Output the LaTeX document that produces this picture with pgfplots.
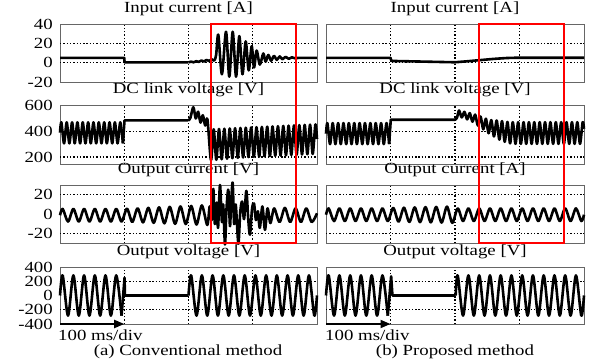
\documentclass[border=0pt]{standalone}
\usepackage{pgfplots}
\pgfplotsset{compat=1.18}
\usepackage{fontspec}
\setmainfont{Liberation Serif}[FakeStretch=1.22]
\usetikzlibrary{arrows.meta}
\newcommand{\fs}{\fontsize{15.5}{18}\selectfont}
\pgfplotsset{
  panel/.style={
    scale only axis, width=257bp, height=58bp,
    xmin=0, xmax=400,
    xtick={100,200,300}, xticklabels={}, xmajorgrids,
    major tick length=0pt,
    axis line style={draw=black!60, line width=0.9bp},
    grid style={black, line width=1.4bp, dash pattern=on 1.4bp off 1.9bp},
    yticklabel style={font=\fs, anchor=east, inner sep=0pt, xshift=-7bp},
    title style={font=\fs, at={(0.5,1)}, anchor=base, yshift=6bp, inner sep=0pt},
    extra tick style={grid=major, major tick length=0pt},
    extra y tick labels={},
    clip=false,
  },
  L/.style={panel, anchor=south west},
  R/.style={panel, anchor=south west, width=258bp},
  nolab/.style={yticklabels={}},
  tr/.style={black, line width=2.6bp, line join=round},
  r1/.style={height=58bp, ymin=-20, ymax=40, ytick={-20,0,20,40}, yticklabels={-20,0,20,40}, extra y ticks={0,20}, title={Input current [A]}},
  r2/.style={height=59bp, ymin=145, ymax=605, ytick={200,400,600}, yticklabels={200,400,600}, extra y ticks={200,400}, title={DC link voltage [V]}},
  r3/.style={height=58bp, ymin=-29.5, ymax=30, ytick={-20,0,20}, yticklabels={-20,0,20}, extra y ticks={-20,20}},
  r4/.style={height=57bp, ymin=-400, ymax=400, ytick={-400,-200,0,200,400}, yticklabels={-400,-200,0,200,400}, extra y ticks={-200,200}, title={Output voltage [V]}},
}
\begin{document}
\begin{tikzpicture}
\path[use as bounding box] (0,0) rectangle (589bp,363bp);
% ---------------- Row 1 : input current
\begin{axis}[L, r1, at={(60bp,281bp)}]
\addplot[tr] coordinates {(0,5)(100,5)(100.5,0.3)(200,0.3)};
\addplot[tr, smooth] coordinates {(200,0.3)(204,1.0)(208,0.4)(212,1.5)(216,0.8)(220,2.2)(224,1.2)(228,2.8)(232,1.8)(236,3.5)(240,2.2)(243,8)(246.4,29)(252,-12)(258.4,32)(263.5,-14.5)(268.8,32)(274,-14.5)(279.1,27.5)(284,-12)(289,22)(293.7,-8)(298.3,17)(302,-5)(306,12.5)(311,-2)(316.4,9.5)(320,1)(324.2,8)(328.5,2)(333,7)(337.5,3)(342,6.5)(346,3.5)(351,6)(356,4)(361,5.5)(366,4.5)(372,5)(380,5)(400,5)};
\coordinate (ra) at (rel axis cs:0.5875,1);
\end{axis}
\begin{axis}[R, r1, nolab, at={(326bp,281bp)}]
\addplot[tr] coordinates {(0,5)(100,5)(101.5,1.8)(150,1.1)(200,0.4)(220,1.5)(240,2.7)(260,3.9)(280,4.8)(295,5.1)(400,5.1)};
\coordinate (rc) at (rel axis cs:0.593,1);
\end{axis}
% ---------------- Row 2 : DC link voltage
\begin{axis}[L, r2, at={(60bp,199bp)}]
\addplot[tr, smooth] coordinates {(0,390)(2.1,470)(6.3,306)(10.4,470)(14.6,306)(18.8,470)(22.9,306)(27.1,470)(31.3,306)(35.4,470)(39.6,306)(43.8,470)(47.9,306)(52.1,470)(56.3,306)(60.4,470)(64.6,306)(68.8,470)(72.9,306)(77.1,470)(81.3,306)(85.4,470)(89.6,306)(93.8,470)(97.9,306)};
\addplot[tr] coordinates {(97.9,306)(100.4,485)(200,485)};
\addplot[tr, smooth] coordinates {(200,485)(203,505)(207.5,588)(211.3,500)(215,553)(218.7,468)(222.3,525)(226,445)(229.5,492)(235,175)(239.2,416)(243.3,178)(247.5,418)(251.7,182)(255.8,420)(260,186)(264.2,422)(268.3,190)(272.5,424)(276.7,193)(280.8,426)(285,196)(289.2,428)(293.3,199)(297.5,430)(301.7,201)(305.8,432)(310,203)(314.2,434)(318.3,205)(322.5,436)(326.7,207)(330.8,438)(335,209)(339.2,440)(343.3,211)(347.5,442)(351.7,213)(355.8,444)(360,215)(364.2,446)(368.3,217)(372.5,448)(376.7,219)(380.8,450)(385,221)(389.2,452)(393.3,223)(397.5,454)(400,340)};
\end{axis}
\begin{axis}[R, r2, nolab, at={(326bp,199bp)}]
\addplot[tr, smooth] coordinates {(0,382)(2.1,464)(6.3,300)(10.4,464)(14.6,300)(18.8,464)(22.9,300)(27.1,464)(31.3,300)(35.4,464)(39.6,300)(43.8,464)(47.9,300)(52.1,464)(56.3,300)(60.4,464)(64.6,300)(68.8,464)(72.9,300)(77.1,464)(81.3,300)(85.4,464)(89.6,300)(93.8,464)(97.9,300)};
\addplot[tr] coordinates {(97.9,300)(100.4,490)(200,490)};
\addplot[tr, smooth] coordinates {(200,490)(203,505)(206.3,562)(210.4,508)(214.6,552)(218.8,493)(222.9,542)(227.1,475)(231.3,530)(235.4,445)(239.6,515)(243.8,415)(247.9,498)(252.1,385)(256.3,487)(260.4,360)(264.6,484)(268.8,335)(272.9,479)(277.1,318)(281.3,473)(285.4,306)(289.6,471)(293.8,302)(297.9,471)(302.1,302)(306.3,471)(310.4,302)(314.6,471)(318.8,302)(322.9,471)(327.1,302)(331.3,471)(335.4,302)(339.6,471)(343.8,302)(347.9,471)(352.1,302)(356.3,471)(360.4,302)(364.6,471)(368.8,302)(372.9,471)(377.1,302)(381.3,471)(385.4,302)(389.6,471)(393.8,302)(397.9,471)(400,420)};
\end{axis}
% ---------------- Row 3 : output current
\begin{axis}[L, r3, at={(60bp,120bp)}, title={Output current [V]}]
\addplot[tr, smooth] coordinates {(0,-1)(4.2,5.5)(12.5,-7.5)(20.8,5.5)(29.2,-7.5)(37.5,5.5)(45.8,-7.5)(54.2,5.5)(62.5,-7.5)(70.8,5.5)(79.2,-7.5)(87.5,5.5)(95.8,-7.5)(104.2,5.7)(112.5,-7.9)(120.8,6.1)(129.2,-8.3)(137.5,6.6)(145.8,-8.8)(154.2,7.1)(162.5,-9.3)(170.8,7.6)(179.2,-9.8)(187.5,8)(195.8,-10)(204.2,8.5)(212.5,-10.5)(220.8,9)(229.2,-11)(233,8)(236,-6)(238.6,26)(241,-10)(244,12)(246,-14)(249,30)(252,-8)(254,10)(256.8,-31)(259,4)(262,25)(264.5,-12)(266,6)(268.7,32.5)(271,-10)(273.5,10)(277.6,-30)(280.5,2)(283.5,13)(286.5,-5)(290,24)(293,-5)(295.7,-21)(299,6)(302,11)(305,-6)(308,3)(311,-14)(315,8)(319,-16)(323,6)(327.5,-9)(333.3,6)(341.7,-8)(350,6.5)(358.3,-8)(366.7,6)(375,-8)(383.3,6)(391.7,-8)(400,1)};
\coordinate (rb) at (rel axis cs:0.918,0);
\end{axis}
\begin{axis}[R, r3, nolab, at={(326bp,120bp)}, title={Output current [A]}]
\addplot[tr, smooth] coordinates {(0,-0.5)(4.2,6)(12.5,-7)(20.8,6)(29.2,-7)(37.5,6)(45.8,-7)(54.2,6)(62.5,-7)(70.8,6)(79.2,-7)(87.5,6)(95.8,-7)(104.2,6.5)(112.5,-7.6)(120.8,6.7)(129.2,-7.9)(137.5,7)(145.8,-8.1)(154.2,7.3)(162.5,-8.3)(170.8,7.5)(179.2,-8.5)(187.5,7.8)(195.8,-8.8)(204.2,6)(212.5,-7)(220.8,6)(229.2,-7)(237.5,6)(245.8,-7)(254.2,6)(262.5,-7)(270.8,6)(279.2,-7)(287.5,6)(295.8,-7)(304.2,6)(312.5,-7)(320.8,6)(329.2,-7)(337.5,6)(345.8,-7)(354.2,6)(362.5,-7)(370.8,6)(379.2,-7)(387.5,6)(395.8,-7)(400,-0.5)};
\coordinate (rd) at (rel axis cs:0.922,0);
\end{axis}
% ---------------- Row 4 : output voltage
\begin{axis}[L, r4, at={(60bp,39bp)}]
\addplot[tr, smooth] coordinates {(0,0)(4.2,283)(12.5,-283)(20.8,283)(29.2,-283)(37.5,283)(45.8,-283)(54.2,283)(62.5,-283)(70.8,283)(79.2,-283)(87.5,283)(95.8,-283)};
\addplot[tr] coordinates {(95.8,-283)(100.5,250)(101,0)(200,0)};
\addplot[tr, smooth] coordinates {(200,0)(204.2,283)(212.5,-283)(220.8,283)(229.2,-283)(237.5,283)(245.8,-283)(254.2,283)(262.5,-283)(270.8,283)(279.2,-283)(287.5,283)(295.8,-283)(304.2,283)(312.5,-283)(320.8,283)(329.2,-283)(337.5,283)(345.8,-283)(354.2,283)(362.5,-283)(370.8,283)(379.2,-283)(387.5,283)(395.8,-283)(400,0)};
\draw[black, line width=1.8bp, -{Triangle[length=10bp,width=8bp]}] (rel axis cs:0,0) -- (rel axis cs:0.25,0);
\end{axis}
\begin{axis}[R, r4, nolab, at={(326bp,39bp)}]
\addplot[tr, smooth] coordinates {(0,0)(4.2,283)(12.5,-283)(20.8,283)(29.2,-283)(37.5,283)(45.8,-283)(54.2,283)(62.5,-283)(70.8,283)(79.2,-283)(87.5,283)(95.8,-283)};
\addplot[tr] coordinates {(95.8,-283)(101,270)(103,0)(201,0)};
\addplot[tr, smooth] coordinates {(201,0)(204.2,283)(212.5,-283)(220.8,283)(229.2,-283)(237.5,283)(245.8,-283)(254.2,283)(262.5,-283)(270.8,283)(279.2,-283)(287.5,283)(295.8,-283)(304.2,283)(312.5,-283)(320.8,283)(329.2,-283)(337.5,283)(345.8,-283)(354.2,283)(362.5,-283)(370.8,283)(379.2,-283)(387.5,283)(395.8,-283)(400,0)};
\draw[black, line width=1.8bp, -{Triangle[length=10bp,width=8bp]}] (rel axis cs:0,0) -- (rel axis cs:0.25,0);
\end{axis}
% red boxes
\draw[red, line width=1.5bp] (ra) rectangle (rb);
\draw[red, line width=1.5bp] (rc) rectangle (rd);
% captions
\node[font=\fs, anchor=base west, inner sep=0pt] at (58bp,23bp) {100 ms/div};
\node[font=\fs, anchor=base, inner sep=0pt] at (188bp,8bp) {(a) Conventional method};
\node[font=\fs, anchor=base west, inner sep=0pt] at (325bp,23bp) {100 ms/div};
\node[font=\fs, anchor=base, inner sep=0pt] at (455bp,8bp) {(b) Proposed method};
\end{tikzpicture}
\end{document}
